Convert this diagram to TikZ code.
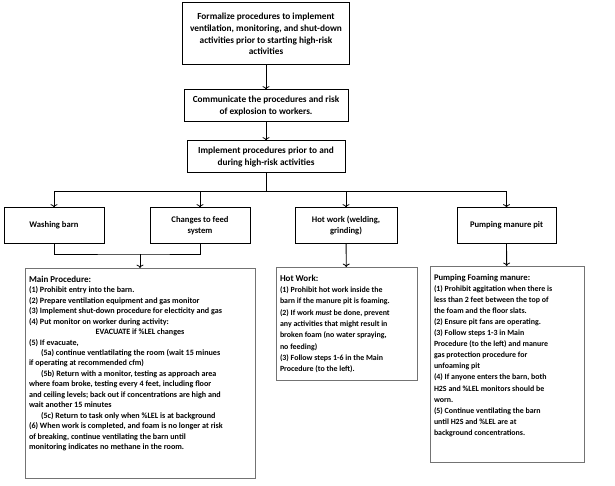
\documentclass[tikz,border=0pt]{standalone}
\usepackage{fontspec}
\setmainfont{Carlito}
\usepackage{tikz}
\usetikzlibrary{arrows.meta}
\definecolor{boxgray}{rgb}{0.45, 0.45, 0.45}

% fixed-size box content, text hung from the top
\newcommand{\proctext}[3]{\parbox[c][#1][t]{#2}{\raggedright\vspace*{3.5pt}#3}}

\begin{document}
\begin{tikzpicture}[>=To, x=1pt, y=-1pt]
	\useasboundingbox (0,0) rectangle (615,486);
	
	% ------------------------------------------------------------------
	% STYLE DEFINITIONS
	% ------------------------------------------------------------------
	\tikzset{
		stepbox/.style = {draw, line width=1pt, align=center, inner sep=2pt,
			font=\bfseries\fontsize{9.3}{11.8}\selectfont},
		taskbox/.style = {draw, line width=1pt, align=center, inner sep=2pt,
			minimum height=35pt, font=\bfseries\fontsize{8.6}{11}\selectfont},
		procbox/.style = {draw=boxgray, line width=1pt, anchor=north, inner sep=4pt,
			font=\bfseries},
		link/.style    = {line width=0.8pt, ->},
	}
	
	% ------------------------------------------------------------------
	% PLANNING STEPS
	% ------------------------------------------------------------------
	\node[stepbox, minimum width=167pt, minimum height=62pt] (formal) at (266,34)
		{Formalize procedures to implement\\ ventilation, monitoring, and shut-down\\
		 activities prior to starting high-risk\\ activities};
	\node[stepbox, minimum width=164pt, minimum height=32pt] (comm) at (266,106)
		{Communicate the procedures and risk\\ of explosion to workers.};
	\node[stepbox, minimum width=158pt, minimum height=32pt] (impl) at (266,157)
		{Implement procedures prior to and\\ during high-risk activities};
	
	\draw[link] (formal) -- (comm);
	\draw[link] (comm) -- (impl);
	
	% ------------------------------------------------------------------
	% ACTIVITIES
	% ------------------------------------------------------------------
	\node[taskbox, minimum width=100pt] (wash) at (54,225.5) {Washing barn};
	\node[taskbox, minimum width=100pt] (feed) at (200,225.5) {Changes to feed\\ system};
	\node[taskbox, minimum width=102pt] (hot)  at (346,225.5) {Hot work (welding,\\ grinding)};
	\node[taskbox, minimum width=99pt]  (pump) at (506.5,225.5) {Pumping manure pit};
	
	\coordinate (bus) at (266,191);
	\draw[line width=0.8pt] (impl) -- (bus);
	\foreach \task in {wash, feed, hot, pump}
		\draw[link] (bus) -| (\task);
	
	% ------------------------------------------------------------------
	% PROCEDURES
	% ------------------------------------------------------------------
	\node[procbox] (mainproc) at (140,268) {\proctext{202pt}{222pt}{%
		{\fontsize{9}{11.5}\selectfont Main Procedure:\par}
		\fontsize{8.1}{10.45}\selectfont
		(1) Prohibit entry into the barn.\\
		(2) Prepare ventilation equipment and gas monitor\\
		(3) Implement shut-down procedure for electicity and gas\\
		(4) Put monitor on worker during activity:\\
		\makebox[\linewidth]{EVACUATE if \%LEL changes}\\
		(5) If evacuate,\\
		\hspace*{12pt}(5a) continue ventlatilating the room (wait 15 minues\\
		if operating at recommended cfm)\\
		\hspace*{12pt}(5b) Return with a monitor, testing as approach area\\
		where foam broke, testing every 4 feet, including floor\\
		and ceiling levels; back out if concentrations are high and\\
		wait another 15 minutes\\
		\hspace*{12pt}(5c) Return to task only when \%LEL is at background\\
		(6) When work is completed, and foam is no longer at risk\\
		of breaking, continue ventilating the barn until\\
		monitoring indicates no methane in the room.\par}};
	
	\node[procbox] (hotproc) at (346.5,267) {\proctext{105pt}{133pt}{%
		{\fontsize{9}{11.5}\selectfont Hot Work:\par}
		\fontsize{7.9}{11.3}\selectfont
		(1) Prohibit hot work inside the\\
		barn if the manure pit is foaming.\\
		(2) If work \textit{must} be done, prevent\\
		any activities that might result in\\
		broken foam (no water spraying,\\
		no feeding)\\
		(3) Follow steps 1-6 in the Main\\
		Procedure (to the left).\par}};
	
	\node[procbox] (pumpproc) at (507,266) {\proctext{188pt}{146pt}{%
		{\fontsize{8.6}{11.5}\selectfont Pumping Foaming manure:\par}
		\fontsize{7.9}{11.1}\selectfont
		(1) Prohibit aggitation when there is\\
		less than 2 feet between the top of\\
		the foam and the floor slats.\\
		(2) Ensure pit fans are operating.\\
		(3) Follow steps 1-3 in Main\\
		Procedure (to the left) and manure\\
		gas protection procedure for\\
		unfoaming pit\\
		(4) If anyone enters the barn, both\\
		H2S and \%LEL monitors should be\\
		worn.\\
		(5) Continue ventilating the barn\\
		until H2S and \%LEL are at\\
		background concentrations.\par}};
	
	\coordinate (join) at (140,254);
	\draw[line width=0.8pt] (wash) |- (join) -| (feed);
	\draw[link] (join) -- (mainproc);
	\draw[link] (hot) -- (hotproc);
	\draw[link] (pump) -- (pumpproc);
	
\end{tikzpicture}
\end{document}
